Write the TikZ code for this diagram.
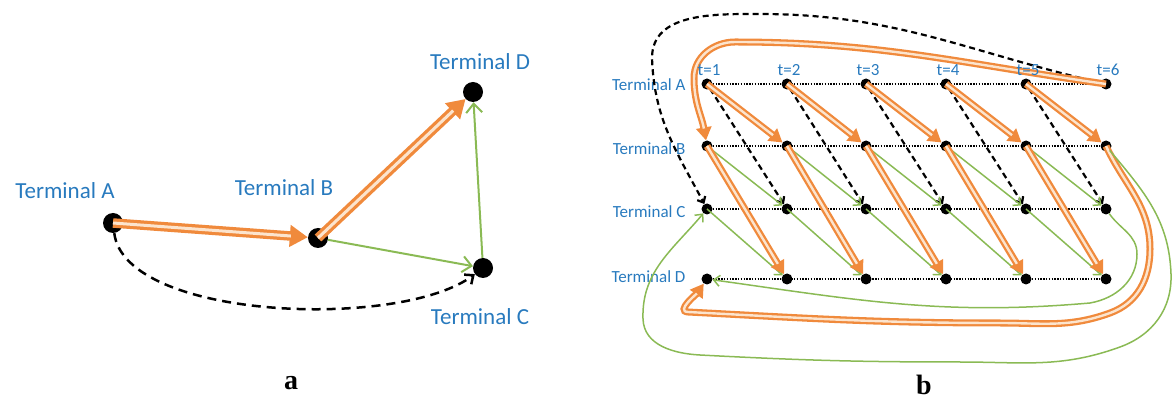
\documentclass[tikz,border=0pt]{standalone}
\usepackage{fontspec}
\setmainfont{Liberation Serif}
\newfontfamily\calib{Carlito}
\usetikzlibrary{arrows.meta}
\definecolor{tblue}{RGB}{40,122,190}
\definecolor{torange}{RGB}{240,138,60}
\definecolor{tgreen}{RGB}{138,186,84}
\definecolor{tpale}{RGB}{252,228,205}
\begin{document}
\begin{tikzpicture}[x=1pt,y=1pt,
 bigdot/.style={circle,fill=black,inner sep=0pt,minimum size=20pt},
 smalldot/.style={circle,fill=black,inner sep=0pt,minimum size=11pt},
 lbla/.style={text=tblue,font=\calib\fontsize{23}{27}\selectfont},
 lblb/.style={text=tblue,font=\calib\fontsize{17}{20}\selectfont},
 pnl/.style={font=\bfseries\fontsize{28}{32}\selectfont},
 oa/.style={draw=torange,line width=9.5pt,-{Triangle[length=18pt,width=21pt]},postaction={draw=tpale,line width=3pt,-,shorten >=17pt}},
 ob/.style={draw=torange,line width=7pt,-{Triangle[length=13pt,width=15pt]},postaction={draw=tpale,line width=2.4pt,-,shorten >=12pt}},
 ga/.style={draw=tgreen,line width=2pt,-{Straight Barb[length=9pt,width=16pt]}},
 gb/.style={draw=tgreen,line width=1.5pt,-{Straight Barb[length=6pt,width=11pt]}},
 da/.style={draw=black,line width=2.5pt,dash pattern=on 9pt off 6pt,-{Straight Barb[length=7pt,width=12pt]}},
 db/.style={draw=black,line width=2.2pt,dash pattern=on 6pt off 4pt,-{Straight Barb[length=5pt,width=9pt]}},
 dotl/.style={draw=black,line width=1.8pt,dash pattern=on 1.4pt off 1.4pt}]
\useasboundingbox (0,0) rectangle (1173,399);
% ---------- panel a ----------
\node[bigdot] (A) at (113,176) {};
\node[bigdot] (B) at (318,161) {};
\node[bigdot] (D) at (473,307) {};
\node[bigdot] (C) at (483,131) {};
\node[lbla] (lA) at (65,208) {Terminal A};
\node[lbla] (lB) at (284,211) {Terminal B};
\node[lbla] (lD) at (480,337) {Terminal D};
\node[lbla] (lC) at (480,82) {Terminal C};
\draw[da] (A) .. controls (125,79) and (400,69) .. (C);
\draw[ga] (B) -- (C);
\draw[ga] (C) -- (D);
\draw[oa] (A.center) -- (B);
\draw[oa] (B.center) -- (D);
\node[pnl] (pa) at (291,16) {a};
% ---------- panel b ----------
\foreach \i/\x in {1/707,2/787,3/866,4/946,5/1026,6/1106} {
 \node[smalldot] (a\i) at (\x,315) {};
 \node[smalldot] (b\i) at (\x,253) {};
 \node[smalldot] (c\i) at (\x,190) {};
 \node[smalldot] (d\i) at (\x,120) {};
}
\node[lblb,anchor=east] (ra) at (689,314) {Terminal A};
\node[lblb,anchor=east] (rb) at (689,250) {Terminal B};
\node[lblb,anchor=east] (rc) at (689,187) {Terminal C};
\node[lblb,anchor=east] (rd) at (689,122) {Terminal D};
\foreach \r in {a,b,c,d} \draw[dotl] (\r1) -- (\r6);
\foreach \i/\j in {1/2,2/3,3/4,4/5,5/6} {
 \draw[db] (a\i) -- (c\j);
 \draw[gb] (b\i.center) -- (c\j);
 \draw[gb] (c\i.center) -- (d\j);
}
\foreach \i/\j in {1/2,2/3,3/4,4/5,5/6} {
 \draw[ob] (a\i.center) -- (b\j);
 \draw[ob] (b\i.center) -- (d\j);
}
% wrap-around connectors
\draw[db] (a6) to[out=167,in=0] (760,385) to[out=180,in=90] (652,341) to[out=-88,in=118] (c1);
\draw[ob] (a6.center) to[out=172,in=0] (735,357) to[out=180,in=90] (694,321) to[out=-90,in=100] (b1);
\draw[gb] (c6) to[out=-55,in=90] (1137,145) to[out=-90,in=10] (1090,96) to[out=185,in=-8] (d1);
\draw[ob] (b6.center) to[out=-65,in=90] (1150,150) to[out=-90,in=20] (1110,86) to[out=200,in=0] (1000,76) to[out=180,in=-3] (688,87) to[out=177,in=-125] (d1);
\draw[gb] (b6) to[out=-50,in=92] (1171,125) to[out=-88,in=20] (1120,52) to[out=200,in=0] (960,37) to[out=180,in=-3] (700,44) to[out=177,in=-88] (643,80) to[out=92,in=-130] (c1);
\foreach \i/\x in {1/707,2/787,3/866,4/946,5/1026,6/1106}
 \node[lblb] (t\i) at (\x+2,329) {t=\i};
\node[pnl] (pb) at (924,14) {b};
\end{tikzpicture}
\end{document}
